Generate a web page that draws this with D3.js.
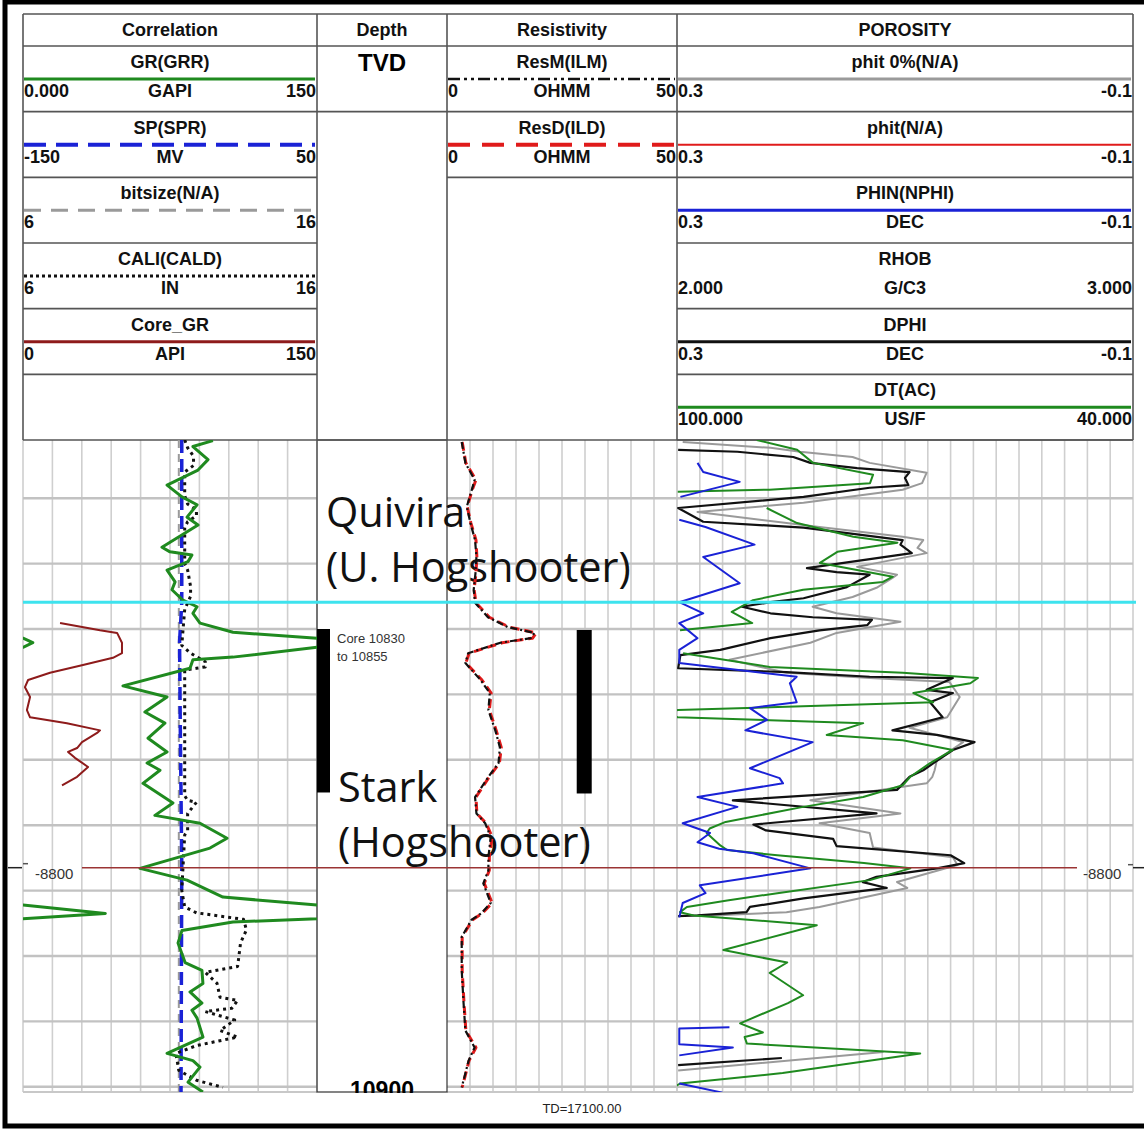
<!DOCTYPE html>
<html>
<head>
<meta charset="utf-8">
<script src="https://cdn.jsdelivr.net/npm/d3@7"></script>
<style>
  body { margin: 0; background: white; overflow: hidden; }
  svg { display: block; }
  .hdr { font-family: "Liberation Sans Narrow", "Arial Narrow", "Liberation Sans", sans-serif; font-weight: bold; font-size: 18px; fill: #111; }
</style>
</head>
<body>
<div id="log"></div>
<script>
var width = 1144, height = 1129;

// depth window (TVD ft) and 10 ft grid
var depthRange = [10801.1, 10900.8];
var depthTicks = [10810, 10820, 10830, 10840, 10850, 10860, 10870, 10880, 10890, 10900];

// tops / markers
var quiviraTop = 10825.9;
var markerDepth = 10866.5;
var markerLabel = "-8800";
var coreTop = 10830, coreBase = 10855;
var bottomDepthLabel = "10900";
var tdLabel = "TD=17100.00";

// header text
var trackTitles = ["Correlation", "Depth", "Resistivity", "POROSITY"];
var corrNames = ["GR(GRR)", "SP(SPR)", "bitsize(N/A)", "CALI(CALD)", "Core_GR"];
var corrUnits = ["GAPI", "MV", "", "IN", "API"];
var corrLeft = ["0.000", "-150", "6", "6", "0"];
var corrRight = ["150", "50", "16", "16", "150"];
var resNames = ["ResM(ILM)", "ResD(ILD)"];
var resUnits = ["OHMM", "OHMM"];
var resLeft = ["0", "0"];
var resRight = ["50", "50"];
var porNames = ["phit 0%(N/A)", "phit(N/A)", "PHIN(NPHI)", "RHOB", "DPHI", "DT(AC)"];
var porUnits = ["", "", "DEC", "G/C3", "DEC", "US/F"];
var porLeft = ["0.3", "0.3", "0.3", "2.000", "0.3", "100.000"];
var porRight = ["-0.1", "-0.1", "-0.1", "3.000", "-0.1", "40.000"];

// curves: [depth, value], null = no data
var grCurve = [[10801.2,96.9],[10802.1,86.7],[10804.1,94.4],[10805.7,89.3],[10808.0,73.5],[10809.8,81.1],[10811.0,88.8],[10812.9,83.7],[10814.1,89.3],[10817.5,70.9],[10818.2,75.0],[10818.7,86.2],[10819.7,84.2],[10821.0,73.5],[10822.8,77.6],[10824.0,76.0],[10825.6,81.6],[10826.6,88.8],[10827.6,86.7],[10829.1,90.3],[10830.5,107.1],[10831.4,150],[10832.1,155],[10832.8,150],[10834.3,107.1],[10834.7,86.7],[10836.0,85.2],[10838.7,51.0],[10840.4,73.5],[10842.7,62.2],[10844.4,72.4],[10846.7,63.8],[10848.8,73.5],[10850.5,63.3],[10851.6,69.9],[10853.6,61.2],[10856.6,76.5],[10858.5,67.3],[10859.7,90.3],[10862.0,104.1],[10863.5,95.4],[10866.6,59.7],[10868.4,83.7],[10871.0,102.0],[10872.2,150],[10873.5,192],[10874.3,150],[10874.8,107.1],[10876.1,81.1],[10878.0,79.1],[10881.0,82.7],[10882.2,91.3],[10884.2,91.8],[10885.5,85.2],[10887.2,91.3],[10888.3,86.2],[10889.5,88.8],[10892.4,91.8],[10894.9,73.5],[10896.0,86.7],[10897.0,90.3],[10899.3,84.2],[10900.8,91.8]];
var spCurve = [[10801.1,-42],[10826,-42],[10832,-43.5],[10845,-43],[10866,-42],[10900.8,-42.5]];
var bitCurve = [[10801.1,11.3],[10900.8,11.3]];
var caliCurve = [[10801.1,11.5],[10802.3,11.6],[10803.6,11.8],[10805.0,11.8],[10806.0,11.5],[10809.6,11.5],[10810.9,11.6],[10811.8,11.9],[10812.7,11.9],[10813.6,11.6],[10814.5,11.5],[10820.0,11.5],[10821.0,11.6],[10823.5,11.7],[10825.0,11.7],[10827.0,11.5],[10832.5,11.4],[10833.7,11.7],[10835.0,12.2],[10835.8,12.2],[10836.0,11.9],[10836.3,11.5],[10855.5,11.5],[10856.2,11.6],[10856.5,11.9],[10858.2,11.6],[10860.8,11.6],[10861.5,11.5],[10870.0,11.4],[10872.5,11.5],[10873.4,11.9],[10874.4,13.5],[10876.0,13.6],[10878.0,13.4],[10881.6,13.3],[10882.5,12.2],[10884.2,12.6],[10886.3,12.7],[10886.8,13.3],[10888.0,13.1],[10888.5,12.2],[10889.8,13.2],[10891.4,12.7],[10892.4,13.3],[10893.7,11.9],[10894.9,11.2],[10897.5,11.3],[10899.0,11.9],[10900.1,12.8]];
var coreGrCurve = [[10829.1,18.9],[10830.2,39.3],[10830.6,48.0],[10832.1,50.5],[10833.7,50.5],[10834.4,45.9],[10835.5,30.6],[10836.7,13.8],[10837.8,2.6],[10838.9,1.0],[10840.4,3.6],[10842.4,2.0],[10843.5,3.6],[10844.4,22.4],[10845.5,39.3],[10845.9,37.8],[10847.3,30.1],[10848.2,27.6],[10848.8,23.0],[10849.7,26.5],[10851.1,33.2],[10852.6,27.6],[10853.9,19.9]];

var resDCurve = [[10801.4,3.3],[10804.6,4.1],[10807.2,6.3],[10808.7,5.5],[10811.3,4.4],[10813.8,5.2],[10816.4,6.3],[10819.0,6.5],[10821.4,6.3],[10824.0,5.9],[10826.0,6.3],[10828.2,9.2],[10829.7,13.5],[10830.6,19.4],[10831.4,18.6],[10832.1,12.0],[10833.7,4.8],[10835.2,4.1],[10837.8,7.6],[10839.8,9.6],[10842.4,9.2],[10845.5,10.7],[10848.1,11.8],[10850.5,11.4],[10852.6,9.2],[10855.7,6.3],[10858.2,6.5],[10859.7,8.5],[10861.8,9.8],[10864.9,9.2],[10866.9,9.2],[10868.9,8.1],[10871.9,9.8],[10873.5,7.6],[10874.5,5.5],[10877.1,3.3],[10882.2,3.3],[10887.2,3.7],[10891.4,4.1],[10894.0,6.3],[10896.0,4.8],[10900.1,3.3]];
var resMCurve = [[10801.4,3.2],[10804.6,4.0],[10807.2,6.0],[10808.7,5.4],[10811.3,4.3],[10813.8,5.1],[10816.4,6.1],[10819.0,6.4],[10821.4,6.2],[10824.0,5.8],[10826.0,6.1],[10828.2,8.9],[10829.7,13.2],[10830.6,19.0],[10831.4,18.2],[10832.1,11.6],[10833.7,4.6],[10835.2,4.0],[10837.8,7.3],[10839.8,9.3],[10842.4,9.0],[10845.5,10.5],[10848.1,11.5],[10850.5,11.2],[10852.6,9.0],[10855.7,6.1],[10858.2,6.4],[10859.7,8.3],[10861.8,9.5],[10864.9,9.0],[10866.9,9.0],[10868.9,7.9],[10871.9,9.5],[10873.5,7.4],[10874.5,5.3],[10877.1,3.2],[10882.2,3.2],[10887.2,3.6],[10891.4,4.0],[10894.0,6.0],[10896.0,4.7],[10900.1,3.2]];

var phit0Curve = [[10801.4,0.295],[10802.3,0.218],[10802.9,0.192],[10803.7,0.146],[10804.6,0.131],[10806.1,0.081],[10807.7,0.085],[10808.7,0.102],[10810.7,0.189],[10812.1,0.282],[10814.4,0.175],[10815.9,0.102],[10816.4,0.084],[10817.6,0.089],[10818.4,0.081],[10820.5,0.142],[10821.7,0.107],[10822.2,0.111],[10823.7,0.125],[10825.1,0.146],[10826.6,0.181],[10827.6,0.160],[10828.9,0.104],[10830.6,0.160],[10832.1,0.183],[10834.7,0.254],[10836.7,0.204],[10837.5,0.131],[10838.1,0.061],[10840.4,0.052],[10843.5,0.063],[10845.1,0.096],[10847.3,0.049],[10850.0,0.072],[10851.6,0.074],[10852.6,0.076],[10853.6,0.081],[10856.2,0.183],[10858.2,0.104],[10859.7,0.175],[10861.2,0.131],[10863.4,0.128],[10864.9,0.058],[10866.1,0.054],[10868.7,0.107],[10869.6,0.098],[10872.5,0.175],[10873.3,0.204],[10873.9,0.280],[10874.2,null],[10894.7,0.119],[10897.5,0.299]];
var dphiCurve = [[10802.6,0.299],[10802.9,0.247],[10803.7,0.198],[10804.6,0.183],[10805.4,0.142],[10806.0,0.096],[10806.9,0.100],[10808.0,0.097],[10808.4,0.131],[10809.8,0.189],[10811.5,0.299],[10813.6,0.277],[10814.5,0.189],[10816.1,0.116],[10816.4,0.102],[10817.1,0.104],[10818.4,0.094],[10820.7,0.186],[10821.3,0.160],[10821.7,0.131],[10823.6,0.151],[10825.3,0.189],[10825.9,0.218],[10826.6,0.243],[10827.6,0.218],[10828.2,0.181],[10828.6,0.129],[10829.4,0.133],[10830.2,0.175],[10831.4,0.218],[10833.2,0.262],[10834.0,0.297],[10836.0,0.299],[10836.6,0.204],[10837.3,0.131],[10837.5,0.058],[10839.3,0.081],[10839.8,0.058],[10841.2,0.078],[10843.5,0.067],[10845.5,0.111],[10846.2,0.072],[10847.3,0.039],[10848.5,0.058],[10850.5,0.075],[10851.6,0.084],[10852.6,0.096],[10854.6,0.107],[10856.2,0.251],[10858.2,0.125],[10859.9,0.233],[10860.8,0.222],[10862.1,0.163],[10863.2,0.160],[10864.6,0.060],[10865.8,0.048],[10866.6,0.072],[10867.9,0.125],[10868.7,0.137],[10869.6,0.116],[10871.2,0.189],[10872.5,0.236],[10873.3,0.239],[10873.8,0.282],[10873.9,0.299],[10874.2,null],[10895.6,0.208],[10896.7,0.299]];
var nphiCurve = [[10804.6,0.282],[10806.0,0.277],[10807.5,0.245],[10809.8,0.297],[10810.5,null],[10813.3,0.298],[10814.4,0.275],[10817.1,0.232],[10819.0,0.277],[10823.0,0.245],[10825.9,0.298],[10827.6,0.277],[10829.1,0.298],[10831.4,0.282],[10833.2,0.298],[10835.2,0.298],[10837.3,0.195],[10838.3,0.201],[10841.2,0.195],[10842.1,0.236],[10843.9,0.221],[10845.5,0.240],[10847.3,0.181],[10851.3,0.236],[10852.8,0.210],[10853.6,0.207],[10855.7,0.282],[10857.2,0.247],[10859.7,0.295],[10861.2,0.271],[10862.6,0.282],[10863.6,0.263],[10864.3,0.233],[10866.6,0.183],[10869.2,0.280],[10870.4,0.275],[10871.9,0.295],[10874.1,0.298],[10874.5,null],[10890.9,0.254],[10891.1,0.298],[10893.5,0.298],[10894.0,0.251],[10895.2,0.298],[10895.5,null],[10899.5,0.298],[10900.9,0.26]];
var dtCurve = [[10801.1,89.5],[10802.6,84.2],[10804.6,82.1],[10806.4,74.2],[10807.7,74.6],[10808.7,87.8],[10809.0,99.9],[10809.3,null],[10811.5,88.2],[10813.8,84.2],[10815.9,76.8],[10816.8,71.0],[10818.2,78.9],[10819.9,81.2],[10822.0,71.6],[10822.8,72.9],[10824.0,83.4],[10825.6,90.0],[10827.4,92.8],[10829.1,90.1],[10830.2,99.6],[10830.5,null],[10833.7,99.2],[10835.8,87.8],[10836.7,70.3],[10837.5,60.4],[10838.3,61.4],[10839.8,68.9],[10841.2,66.3],[10842.4,99.9],[10843.0,102],[10843.5,99.9],[10844.4,75.5],[10846.2,80.3],[10847.0,70.3],[10848.5,63.7],[10850.5,66.7],[10852.6,69.3],[10853.9,70.3],[10855.7,75.5],[10857.2,83.4],[10859.5,93.6],[10860.5,95.7],[10861.2,96.1],[10863.1,94.3],[10863.8,93.4],[10864.6,86.8],[10865.8,75.4],[10866.6,69.3],[10868.4,74.6],[10870.4,86.8],[10871.5,93.4],[10872.5,98.7],[10873.3,99.6],[10873.8,97.8],[10875.3,81.6],[10879.1,93.9],[10881.0,85.5],[10882.6,87.8],[10886.0,83.4],[10887.2,85.4],[10890.3,91.7],[10891.7,88.7],[10892.4,91.1],[10893.4,90.8],[10894.9,68.0],[10897.9,86.1],[10899.5,99.6],[10900.5,101]];

// ---- layout
var corrX = [23, 317], depthX = [317, 447], resX = [447, 677], porX = [677, 1133];
var hdrTop = 14, hdrTitle = 46, hdrBottom = 440, plotBottom = 1092;
var rowH = (hdrBottom - hdrTitle) / 6;

var svg = d3.select("#log")
  .append("svg")
    .attr("width", width)
    .attr("height", height)
    .style("background", "white");

var y = d3.scaleLinear().domain(depthRange).range([hdrBottom, plotBottom]);
var xGR = d3.scaleLinear().domain([0, 150]).range(corrX);
var xSP = d3.scaleLinear().domain([-150, 50]).range(corrX);
var xCal = d3.scaleLinear().domain([6, 16]).range(corrX);
var xRes = d3.scaleLinear().domain([0, 50]).range(resX);
var xPor = d3.scaleLinear().domain([0.3, -0.1]).range(porX);
var xDT = d3.scaleLinear().domain([100, 40]).range(porX);

// clip paths per track
var defs = svg.append("defs");
function clip(id, xr) {
  defs.append("clipPath").attr("id", id).append("rect")
    .attr("x", xr[0]).attr("y", hdrBottom).attr("width", xr[1] - xr[0]).attr("height", plotBottom - hdrBottom);
}
clip("cCorr", corrX); clip("cRes", resX); clip("cPor", porX);
defs.append("clipPath").attr("id", "cDepth").append("rect")
  .attr("x", depthX[0]).attr("y", hdrBottom).attr("width", depthX[1] - depthX[0]).attr("height", plotBottom - hdrBottom + 1);

// ---- grid
var grid = svg.append("g");
function vgrid(scale, vals) {
  grid.selectAll(null).data(vals).enter().append("line")
    .attr("x1", function(d){ return scale(d); }).attr("x2", function(d){ return scale(d); })
    .attr("y1", hdrBottom).attr("y2", plotBottom)
    .attr("stroke", "#cfcfcf").attr("stroke-width", 1.6);
}
vgrid(xGR, d3.range(0, 151, 15));
vgrid(xRes, d3.range(5, 51, 5));
vgrid(xPor, d3.range(0, 20).map(function(i){ return 0.3 - i * 0.02; }).concat([-0.1]));

[corrX, resX, porX].forEach(function(xr) {
  grid.selectAll(null).data(depthTicks).enter().append("line")
    .attr("x1", xr[0]).attr("x2", xr[1])
    .attr("y1", function(d){ return y(d); }).attr("y2", function(d){ return y(d); })
    .attr("stroke", "#c2c2c2").attr("stroke-width", 2.4);
  grid.append("line").attr("x1", xr[0]).attr("x2", xr[1]).attr("y1", plotBottom).attr("y2", plotBottom)
    .attr("stroke", "#c8c8c8").attr("stroke-width", 2);
});

// depth track box
svg.append("rect")
  .attr("x", depthX[0]).attr("y", hdrBottom).attr("width", depthX[1] - depthX[0]).attr("height", plotBottom - hdrBottom)
  .attr("fill", "none").attr("stroke", "#333").attr("stroke-width", 1.2);

// ---- header
var hdr = svg.append("g");
function hline(x0, x1, yy) {
  hdr.append("line").attr("x1", x0).attr("x2", x1).attr("y1", yy).attr("y2", yy)
    .attr("stroke", "#555").attr("stroke-width", 1.6);
}
hline(corrX[0], porX[1], hdrTop);
hline(corrX[0], porX[1], hdrTitle);
hline(corrX[0], porX[1], hdrBottom);
[corrX[0], depthX[0], resX[0], porX[0], porX[1]].forEach(function(xx) {
  hdr.append("line").attr("x1", xx).attr("x2", xx).attr("y1", hdrTop).attr("y2", hdrBottom)
    .attr("stroke", "#555").attr("stroke-width", 1.6);
});
[corrX, depthX, resX, porX].forEach(function(xr, i) {
  hdr.append("text").attr("class", "hdr")
    .attr("x", (xr[0] + xr[1]) / 2).attr("y", hdrTop + 22)
    .attr("text-anchor", "middle").text(trackTitles[i]);
});
hdr.append("text")
  .attr("x", (depthX[0] + depthX[1]) / 2).attr("y", hdrTitle + 25)
  .attr("text-anchor", "middle")
  .style("font-family", "'Liberation Sans', Arial, sans-serif").style("font-weight", "bold").style("font-size", "24px")
  .text("TVD");
hline(depthX[0], depthX[1], hdrTitle + rowH);

var corrStyle = [
  { c: "#1f8a1f", w: 3, dash: null },
  { c: "#1a22d6", w: 4, dash: "22,10" },
  { c: "#9a9a9a", w: 3, dash: "17,10" },
  { c: "#111", w: 3, dash: "3,3" },
  { c: "#8e1b1b", w: 3, dash: null }
];
var resStyle = [
  { c: "#111", w: 2.5, dash: "12,4,3,4,3,4" },
  { c: "#e01b1b", w: 4, dash: "22,12" }
];
var porStyle = [
  { c: "#9a9a9a", w: 3, dash: null },
  { c: "#e01b1b", w: 2, dash: null },
  { c: "#1a22d6", w: 3, dash: null },
  null,
  { c: "#111", w: 3, dash: null },
  { c: "#1f8a1f", w: 3, dash: null }
];

function headerRows(xr, names, units, lefts, rights, styles) {
  names.forEach(function(n, i) {
    var top = hdrTitle + i * rowH;
    var g = hdr.append("g");
    g.append("text").attr("class", "hdr").attr("x", (xr[0] + xr[1]) / 2).attr("y", top + 22)
      .attr("text-anchor", "middle").text(n);
    if (styles[i]) {
      g.append("line").attr("x1", xr[0] + 1).attr("x2", xr[1] - 2).attr("y1", top + 33).attr("y2", top + 33)
        .attr("stroke", styles[i].c).attr("stroke-width", styles[i].w)
        .attr("stroke-dasharray", styles[i].dash);
    }
    g.append("text").attr("class", "hdr").attr("x", (xr[0] + xr[1]) / 2).attr("y", top + 51)
      .attr("text-anchor", "middle").text(units[i]);
    g.append("text").attr("class", "hdr").attr("x", xr[0] + 1).attr("y", top + 51).text(lefts[i]);
    g.append("text").attr("class", "hdr").attr("x", xr[1] - 1).attr("y", top + 51)
      .attr("text-anchor", "end").text(rights[i]);
    hline(xr[0], xr[1], top + rowH);
  });
}
headerRows(corrX, corrNames, corrUnits, corrLeft, corrRight, corrStyle);
headerRows(resX, resNames, resUnits, resLeft, resRight, resStyle);
headerRows(porX, porNames, porUnits, porLeft, porRight, porStyle);

// ---- depth track annotations
var ann = svg.append("g");
ann.append("rect").attr("x", depthX[0]).attr("width", 13)
  .attr("y", y(coreTop)).attr("height", y(coreBase) - y(coreTop)).attr("fill", "#000");
ann.append("rect").attr("x", xRes(28.2)).attr("width", 15)
  .attr("y", y(coreTop) + 1).attr("height", y(coreBase) - y(coreTop)).attr("fill", "#000");
ann.append("text").attr("x", depthX[0] + 20).attr("y", y(coreTop) + 14)
  .style("font-family", "'Liberation Sans', Arial, sans-serif").style("font-size", "13px").style("fill", "#333")
  .text("Core " + coreTop);
ann.append("text").attr("x", depthX[0] + 20).attr("y", y(coreTop) + 32)
  .style("font-family", "'Liberation Sans', Arial, sans-serif").style("font-size", "13px").style("fill", "#333")
  .text("to " + coreBase);
ann.append("text").attr("x", (depthX[0] + depthX[1]) / 2).attr("y", y(10900) + 11)
  .attr("text-anchor", "middle").attr("clip-path", "url(#cDepth)")
  .style("font-family", "'Liberation Sans', Arial, sans-serif").style("font-weight", "bold").style("font-size", "23px")
  .text(bottomDepthLabel);

// formation names
[["Quivira", 326, 527], ["(U. Hogshooter)", 326, 582], ["Stark", 338, 802], ["(Hogshooter)", 338, 857]].forEach(function(t) {
  ann.append("text").attr("x", t[1]).attr("y", t[2])
    .style("font-family", "'Open Sans', 'Noto Sans', sans-serif").style("font-size", "41.5px").style("fill", "#111")
    .text(t[0]);
});

// ---- curves
function line(xs) {
  return d3.line()
    .defined(function(d){ return d[1] !== null; })
    .x(function(d){ return xs(d[1]); })
    .y(function(d){ return y(d[0]); });
}
function curve(clipId, data, xs, c, w, dash) {
  svg.append("path").datum(data)
    .attr("clip-path", "url(#" + clipId + ")")
    .attr("fill", "none").attr("stroke", c).attr("stroke-width", w)
    .attr("stroke-dasharray", dash).attr("stroke-linejoin", "round")
    .attr("d", line(xs));
}

// correlation
curve("cCorr", coreGrCurve, xGR, "#8e1b1b", 2, null);
curve("cCorr", bitCurve, xCal, "#9a9a9a", 2, "8,6");
curve("cCorr", spCurve, xSP, "#1a22d6", 3.5, "13,6");
curve("cCorr", caliCurve, xCal, "#111", 3, "3,4");
curve("cCorr", grCurve, xGR, "#1f8a1f", 3, null);
// GR backup (wrap past 150)
var xGRwrap = d3.scaleLinear().domain([150, 300]).range(corrX);
curve("cCorr", grCurve, xGRwrap, "#1f8a1f", 3, null);

// resistivity
curve("cRes", resDCurve, xRes, "#e01b1b", 3, "9,5");
curve("cRes", resMCurve, xRes, "#111", 2.2, "7,3,2,3");

// porosity
curve("cPor", phit0Curve, xPor, "#9a9a9a", 2, null);
curve("cPor", dphiCurve, xPor, "#111", 2.2, null);
curve("cPor", dtCurve, xDT, "#1f8a1f", 2, null);
curve("cPor", nphiCurve, xPor, "#1a22d6", 2, null);

// ---- tops
svg.append("line").attr("x1", corrX[0]).attr("x2", 1136)
  .attr("y1", y(quiviraTop)).attr("y2", y(quiviraTop))
  .attr("stroke", "#3ee3ee").attr("stroke-width", 3);
svg.append("line").attr("x1", 82).attr("x2", 1077)
  .attr("y1", y(markerDepth)).attr("y2", y(markerDepth))
  .attr("stroke", "#9b3434").attr("stroke-width", 1.6);
[35, 1083].forEach(function(px) {
  svg.append("text").attr("x", px).attr("y", y(markerDepth) + 11)
    .style("font-family", "'Liberation Sans', Arial, sans-serif").style("font-size", "15px").style("fill", "#333")
    .text(markerLabel);
});
svg.append("line").attr("x1", 8).attr("x2", 22).attr("y1", y(markerDepth)).attr("y2", y(markerDepth))
  .attr("stroke", "#222").attr("stroke-width", 1.5);
svg.append("line").attr("x1", 1133).attr("x2", 1144).attr("y1", y(markerDepth)).attr("y2", y(markerDepth))
  .attr("stroke", "#222").attr("stroke-width", 1.5);
svg.append("line").attr("x1", 23).attr("x2", 28).attr("y1", y(markerDepth) - 4).attr("y2", y(markerDepth) - 4)
  .attr("stroke", "#555").attr("stroke-width", 1.5);
svg.append("line").attr("x1", 1128).attr("x2", 1133).attr("y1", y(markerDepth) - 3).attr("y2", y(markerDepth) - 3)
  .attr("stroke", "#555").attr("stroke-width", 1.5);

svg.append("text").attr("x", 582).attr("y", 1113).attr("text-anchor", "middle")
  .style("font-family", "'Liberation Sans', Arial, sans-serif").style("font-size", "13px").style("fill", "#222")
  .text(tdLabel);

// outer frame
svg.append("path").attr("d", "M1150,2 H5 V1126 H1150")
  .attr("fill", "none").attr("stroke", "#000").attr("stroke-width", 5);
</script>
</body>
</html>
